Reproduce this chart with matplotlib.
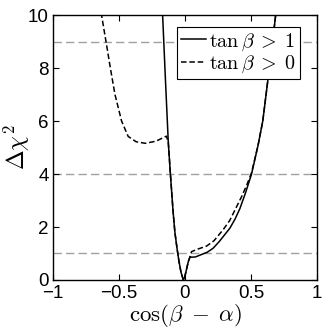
import numpy as np
import matplotlib
matplotlib.use("Agg")
import matplotlib.pyplot as plt

# solid curve: tan(beta) > 1
x_gt1 = [-0.169, -0.148, -0.126, -0.11, -0.09, -0.076, -0.06, -0.045, -0.03,
         -0.012, -0.002, 0.012, 0.026, 0.04, 0.05, 0.08, 0.12, 0.17, 0.214,
         0.26, 0.30, 0.34, 0.38, 0.417, 0.46, 0.505, 0.555, 0.59, 0.63, 0.66, 0.69]
y_gt1 = [10.0, 7.6, 5.2, 4.0, 2.6, 1.8, 1.2, 0.7, 0.3,
         0.0, 0.1, 0.4, 0.7, 0.88, 0.86, 0.87, 0.95, 1.05, 1.2,
         1.45, 1.7, 1.95, 2.3, 2.7, 3.3, 4.0, 5.1, 6.0, 7.6, 8.8, 10.1]

# dashed curve: tan(beta) > 0
x_gt0 = [-0.635, -0.615, -0.598, -0.565, -0.53, -0.48, -0.43, -0.37, -0.30,
         -0.22, -0.14, -0.126, -0.11, -0.09, -0.076, -0.06, -0.045, -0.03,
         -0.012, -0.002, 0.012, 0.026, 0.04, 0.05, 0.10, 0.164, 0.22, 0.29,
         0.34, 0.38, 0.43, 0.47, 0.505, 0.555, 0.59, 0.63, 0.66, 0.69]
y_gt0 = [10.1, 9.5, 9.0, 8.0, 7.0, 6.0, 5.42, 5.22, 5.16,
         5.24, 5.43, 5.2, 4.0, 2.6, 1.8, 1.2, 0.7, 0.3,
         0.0, 0.1, 0.4, 0.7, 0.9, 1.07, 1.17, 1.28, 1.48, 1.9,
         2.25, 2.65, 3.15, 3.6, 4.05, 5.1, 6.0, 7.6, 8.8, 10.1]

ref_levels = [1, 4, 9]
x_ticks = [-1, -0.5, 0, 0.5, 1]
x_ticklabels = ['\u22121', '\u22120.5', '0', '0.5', '1']
y_ticks = [0, 2, 4, 6, 8, 10]

plt.rcParams['font.family'] = ['Liberation Sans', 'DejaVu Sans']
plt.rcParams['mathtext.fontset'] = 'cm'
plt.rcParams['lines.scale_dashes'] = False

fig = plt.figure(figsize=(3.27, 3.29), dpi=100)
ax = fig.add_axes([0.162, 0.149, 0.807, 0.805])

for lv in ref_levels:
    ax.axhline(lv, color='#a0a0a0', lw=1.0, dashes=(6, 3), zorder=1)

ax.plot(x_gt0, y_gt0, color='k', lw=1.1, dashes=(4, 2), label=r'$\tan\beta\;>\;0$', zorder=3)
ax.plot(x_gt1, y_gt1, color='k', lw=1.1, label=r'$\tan\beta\;>\;1$', zorder=4)

ax.set_xlim(-1, 1)
ax.set_ylim(0, 10)
ax.set_xticks(x_ticks)
ax.set_xticklabels(x_ticklabels)
ax.set_yticks(y_ticks)
ax.tick_params(direction='in', top=True, right=True, length=4, width=0.8,
               labelsize=13.5, pad=3)
ax.tick_params(axis='x', pad=3.5)
for s in ax.spines.values():
    s.set_linewidth(1.0)

ax.set_xlabel(r'$\cos(\beta\;-\;\alpha)$', fontsize=16.5, labelpad=0)
ax.set_ylabel(r'$\Delta\chi^2$', fontsize=17, labelpad=-3)

h, l = ax.get_legend_handles_labels()
leg = ax.legend(h[::-1], l[::-1], loc='upper right', bbox_to_anchor=(0.936, 0.955),
                fontsize=14.5, handlelength=1.25, handletextpad=0.15, borderpad=0.2,
                labelspacing=0.05, borderaxespad=0, fancybox=False,
                framealpha=1, edgecolor='k')
leg.get_frame().set_linewidth(0.8)

fig.savefig('out.png', dpi=100)
